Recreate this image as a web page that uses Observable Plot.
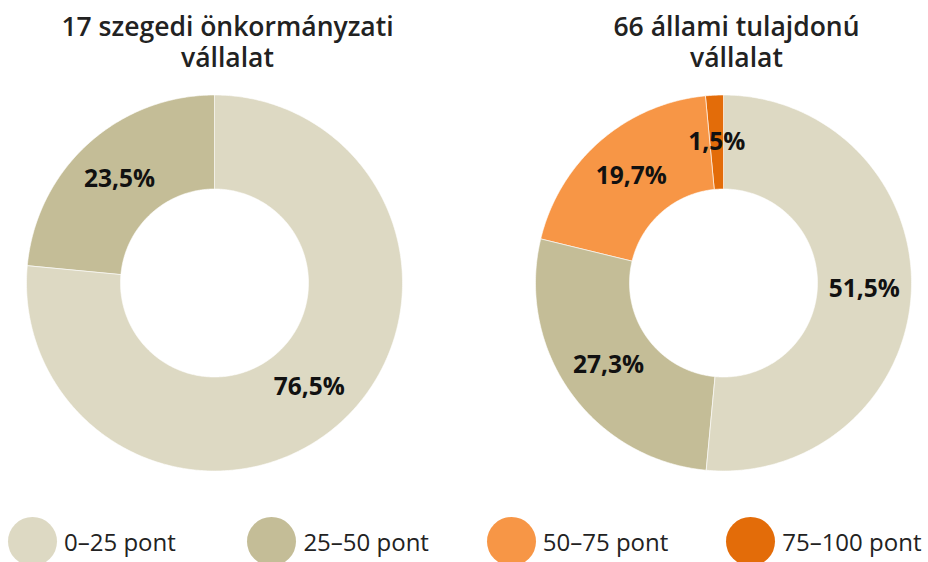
<!DOCTYPE html>
<html>
<head>
<meta charset="utf-8">
<script src="https://cdn.jsdelivr.net/npm/d3@7"></script>
<script src="https://cdn.jsdelivr.net/npm/@observablehq/plot@0.6"></script>
<style>
  html, body { margin: 0; padding: 0; background: #fff; overflow: hidden; }
  #chart svg { display: block; }
  .legend { position: relative; height: 49px; margin-top: 17px; font-family: "Open Sans", sans-serif; }
  .item { position: absolute; top: 0; display: flex; align-items: center; height: 49px; }
  .sw { width: 49px; height: 49px; border-radius: 50%; margin-right: 7px; }
  .lab { font-size: 24px; color: #222; line-height: 48px; }
</style>
</head>
<body>
<div id="chart"></div>
<div class="legend" id="legend"></div>
<script>
// ---- data ----
const categories = ["0–25 pont", "25–50 pont", "50–75 pont", "75–100 pont"];
const colors = ["#ddd9c3", "#c4bd97", "#f79646", "#e36c09"];
const charts = ["17 szegedi önkormányzati\nvállalat", "66 állami tulajdonú\nvállalat"];
const szegediValues = [76.5, 23.5, 0, 0];
const allamiValues = [51.5, 27.3, 19.7, 1.5];
const labelTexts = [["76,5%", "23,5%", "", ""], ["51,5%", "27,3%", "19,7%", "1,5%"]];
const seriesValues = [szegediValues, allamiValues];

// ---- geometry derived from the values ----
const rOuter = 188, rInner = 94;
const pie = d3.pie().sort(null).value(d => d.value);
const points = [];
const labels = [];
charts.forEach((chart, ci) => {
  const rows = categories.map((c, i) => ({category: c, value: seriesValues[ci][i], text: labelTexts[ci][i]}));
  pie(rows).forEach((a, i) => {
    if (a.data.value <= 0) return;
    const key = chart + "|" + a.data.category;
    const n = Math.max(2, Math.ceil((a.endAngle - a.startAngle) / 0.01));
    for (let k = 0; k <= n; k++) {
      const t = a.startAngle + (a.endAngle - a.startAngle) * k / n;
      points.push({chart, key, category: a.data.category, x: rOuter * Math.sin(t), y: rOuter * Math.cos(t)});
    }
    for (let k = n; k >= 0; k--) {
      const t = a.startAngle + (a.endAngle - a.startAngle) * k / n;
      points.push({chart, key, category: a.data.category, x: rInner * Math.sin(t), y: rInner * Math.cos(t)});
    }
    const m = (a.startAngle + a.endAngle) / 2, rm = (rOuter + rInner) / 2;
    labels.push({chart, text: a.data.text, x: rm * Math.sin(m), y: rm * Math.cos(m)});
  });
});

const plot = Plot.plot({
  width: 928,
  height: 500,
  marginTop: 0, marginBottom: 0, marginLeft: 14, marginRight: 5,
  style: {fontFamily: "'Open Sans', sans-serif", background: "#fff"},
  fx: {domain: charts, paddingInner: 109 / 509, paddingOuter: 0, axis: null},
  x: {domain: [-200, 200], axis: null},
  y: {domain: [-217.5, 282.5], axis: null},
  color: {domain: categories, range: colors},
  marks: [
    Plot.line(points, {x: "x", y: "y", z: "key", fx: "chart", fill: "category", stroke: "#fff", strokeWidth: 0.6, curve: "linear-closed"}),
    Plot.text(labels, {x: "x", y: "y", fx: "chart", text: "text", fontSize: 24.5, fontWeight: 700, fill: "#111"}),
    Plot.text(charts, {fx: d => d, text: d => d, frameAnchor: "top", dx: 13, dy: 13, fontSize: 26.5, fontWeight: 600, lineHeight: 1.17, fill: "#222"})
  ]
});
document.getElementById("chart").appendChild(plot);

// ---- legend ----
const legend = document.getElementById("legend");
categories.forEach((c, i) => {
  const item = document.createElement("div");
  item.className = "item";
  item.style.left = (8 + i * 239.4) + "px";
  const sw = document.createElement("div");
  sw.className = "sw";
  sw.style.background = colors[i];
  const lab = document.createElement("span");
  lab.className = "lab";
  lab.textContent = c;
  item.appendChild(sw);
  item.appendChild(lab);
  legend.appendChild(item);
});
</script>
</body>
</html>
